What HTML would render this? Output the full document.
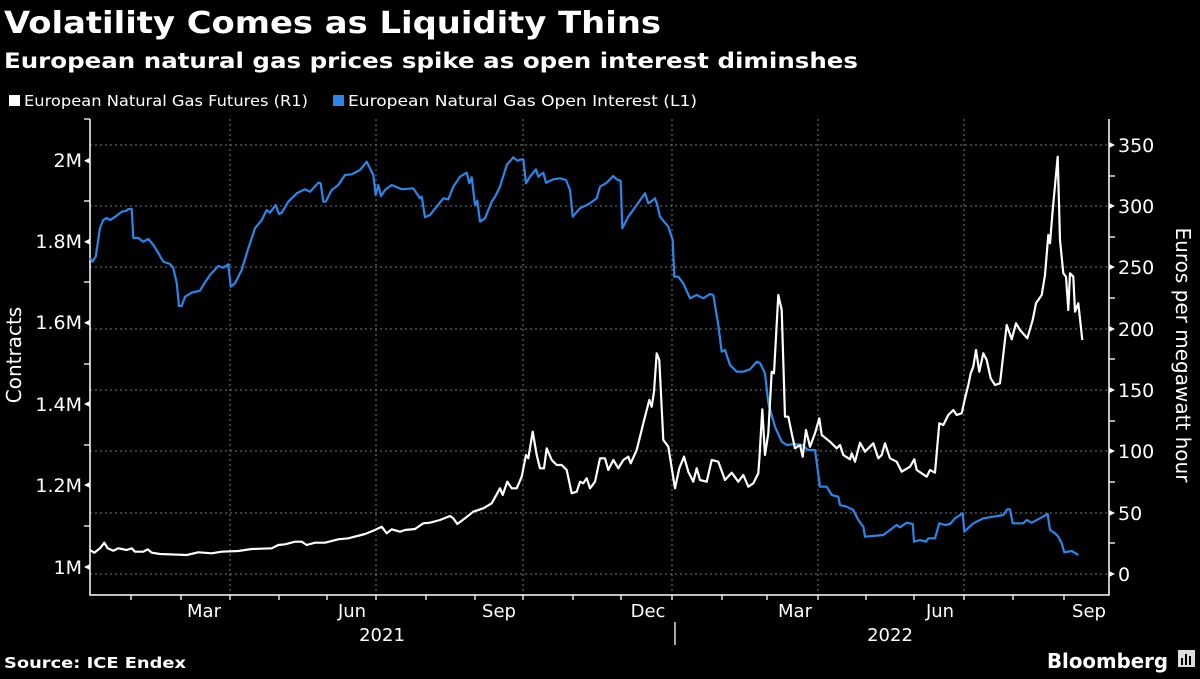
<!DOCTYPE html>
<html><head><meta charset="utf-8"><style>
html,body{margin:0;padding:0;background:#000;}
body{width:1200px;height:675px;overflow:hidden;font-family:"DejaVu Sans","Liberation Sans",sans-serif;color:#fff;}
</style></head><body>
<svg width="1200" height="675" viewBox="0 0 1200 675" xmlns="http://www.w3.org/2000/svg" font-family="DejaVu Sans, Liberation Sans, sans-serif">
<rect width="1200" height="675" fill="#000"/>
<text x="4" y="33" fill="#fff" font-size="30" font-weight="bold" textLength="657" lengthAdjust="spacingAndGlyphs">Volatility Comes as Liquidity Thins</text>
<text x="4" y="68" fill="#fff" font-size="21" font-weight="bold" textLength="854" lengthAdjust="spacingAndGlyphs">European natural gas prices spike as open interest diminshes</text>
<rect x="9" y="95" width="11" height="11" fill="#fff"/>
<text x="24" y="106" fill="#fff" font-size="15" textLength="284" lengthAdjust="spacingAndGlyphs">European Natural Gas Futures (R1)</text>
<rect x="333" y="95" width="11" height="11" fill="#2a86e8"/>
<text x="348" y="106" fill="#fff" font-size="15" textLength="349" lengthAdjust="spacingAndGlyphs">European Natural Gas Open Interest (L1)</text>
<g stroke="#777" stroke-width="1" stroke-dasharray="2,3">
<line x1="90" x2="1108" y1="145" y2="145"/><line x1="90" x2="1108" y1="206" y2="206"/>
<line x1="90" x2="1108" y1="267" y2="267"/><line x1="90" x2="1108" y1="329" y2="329"/>
<line x1="90" x2="1108" y1="390" y2="390"/><line x1="90" x2="1108" y1="451" y2="451"/>
<line x1="90" x2="1108" y1="513" y2="513"/><line x1="90" x2="1108" y1="574" y2="574"/>
<line x1="230" x2="230" y1="119" y2="595"/><line x1="376" x2="376" y1="119" y2="595"/>
<line x1="523" x2="523" y1="119" y2="595"/><line x1="672" x2="672" y1="119" y2="595"/>
<line x1="818" x2="818" y1="119" y2="595"/><line x1="964" x2="964" y1="119" y2="595"/>
</g>
<g stroke="#fff" stroke-width="1.5" fill="none">
<polyline points="90,119 90,595 1109,595 1109,119"/>
</g>
<g stroke="#fff" stroke-width="1.3">
<line x1="84" x2="90" y1="201" y2="201"/><line x1="84" x2="90" y1="282" y2="282"/>
<line x1="84" x2="90" y1="364" y2="364"/><line x1="84" x2="90" y1="445" y2="445"/>
<line x1="84" x2="90" y1="526" y2="526"/><line x1="84" x2="90" y1="119" y2="119"/>
<line x1="1109" x2="1115" y1="176" y2="176"/><line x1="1109" x2="1115" y1="237" y2="237"/>
<line x1="1109" x2="1115" y1="298" y2="298"/><line x1="1109" x2="1115" y1="359" y2="359"/>
<line x1="1109" x2="1115" y1="421" y2="421"/><line x1="1109" x2="1115" y1="482" y2="482"/>
<line x1="1109" x2="1115" y1="543" y2="543"/>
<line x1="131" x2="131" y1="595" y2="600"/><line x1="181" x2="181" y1="595" y2="600"/><line x1="230" x2="230" y1="595" y2="600"/>
<line x1="279" x2="279" y1="595" y2="600"/><line x1="327" x2="327" y1="595" y2="600"/><line x1="376" x2="376" y1="595" y2="600"/>
<line x1="426" x2="426" y1="595" y2="600"/><line x1="475" x2="475" y1="595" y2="600"/><line x1="523" x2="523" y1="595" y2="600"/>
<line x1="573" x2="573" y1="595" y2="600"/><line x1="621" x2="621" y1="595" y2="600"/><line x1="672" x2="672" y1="595" y2="600"/>
<line x1="722" x2="722" y1="595" y2="600"/><line x1="767" x2="767" y1="595" y2="600"/><line x1="818" x2="818" y1="595" y2="600"/>
<line x1="866" x2="866" y1="595" y2="600"/><line x1="914" x2="914" y1="595" y2="600"/><line x1="964" x2="964" y1="595" y2="600"/>
<line x1="1013" x2="1013" y1="595" y2="600"/><line x1="1064" x2="1064" y1="595" y2="600"/>
<line x1="675" x2="675" y1="622" y2="645"/>
</g>
<g fill="#fff">
<polygon points="84,160.7 90,157.7 90,163.7"/><polygon points="84,241.7 90,238.7 90,244.7"/>
<polygon points="84,322.7 90,319.7 90,325.7"/><polygon points="84,404 90,401 90,407"/>
<polygon points="84,485 90,482 90,488"/><polygon points="84,567 90,564 90,570"/>
<polygon points="1115,145 1109,142 1109,148"/><polygon points="1115,206 1109,203 1109,209"/>
<polygon points="1115,267 1109,264 1109,270"/><polygon points="1115,329 1109,326 1109,332"/>
<polygon points="1115,390 1109,387 1109,393"/><polygon points="1115,451 1109,448 1109,454"/>
<polygon points="1115,513 1109,510 1109,516"/><polygon points="1115,574 1109,571 1109,577"/>
</g>
<g fill="#fff" font-size="19" text-anchor="end">
<text x="82" y="167">2M</text><text x="82" y="248">1.8M</text><text x="82" y="329">1.6M</text>
<text x="82" y="411">1.4M</text><text x="82" y="492">1.2M</text><text x="82" y="574">1M</text>
</g>
<g fill="#fff" font-size="19" text-anchor="start">
<text x="1118" y="152">350</text><text x="1118" y="213">300</text><text x="1118" y="274">250</text>
<text x="1118" y="336">200</text><text x="1118" y="397">150</text><text x="1118" y="458">100</text>
<text x="1118" y="520">50</text><text x="1118" y="581">0</text>
</g>
<g fill="#fff" font-size="18" text-anchor="middle">
<text x="204" y="617">Mar</text><text x="352" y="617">Jun</text><text x="499" y="617">Sep</text>
<text x="648" y="617">Dec</text><text x="795" y="617">Mar</text><text x="940" y="617">Jun</text>
<text x="1089" y="617">Sep</text>
<text x="382" y="641">2021</text><text x="890" y="641">2022</text>
</g>
<text transform="translate(21,355) rotate(-90)" fill="#fff" font-size="20" text-anchor="middle">Contracts</text>
<text transform="translate(1176,355) rotate(90)" fill="#fff" font-size="20" text-anchor="middle">Euros per megawatt hour</text>
<polyline fill="none" stroke="#2a86e8" stroke-width="2.2" stroke-linejoin="round" points="90,258 92.3,261.7 95.7,256.7 100,228 103.3,220 106.7,218 110,220 115,217 121.7,211.7 126.7,210.7 128.3,209 131.7,209 133.3,238 138.3,238 143.3,241.7 148.3,239 153.3,245 158.3,253 163.3,261.7 170,264 173.3,268 176.7,283 179,306 181.7,306 185,296.7 191.7,292.7 200,290.7 203.3,285 210,275 218.3,266 223.3,267.7 228.3,264.3 230.7,286.7 235,283.3 241.7,270 248.3,248.3 255,228.3 261.7,220 266.7,210 270,212.7 275.7,205 279,214 281.7,212.7 288.3,201.7 296.7,193.3 305,189.3 310,191.7 318.3,182.7 320.7,183.3 323.3,201.7 325.7,201.7 331.7,190 338.3,185 345,175 351.7,174.3 360,170 366.7,161.7 373.3,175 375.7,195 378.3,185 381,196 385,190 391.7,185 401.7,189.3 413.3,188.3 420,198.3 421.7,196.7 425,217.3 430,215 436.7,206.7 443.3,198.3 448.3,199.3 453.3,186.7 460,176.7 466.7,172.7 469.3,183.3 471.7,177.3 475,205 477.3,200.7 480,221.7 485,218.3 491.7,201.7 495,196.7 500,186.7 506.7,165 513.3,157.3 517.3,160.7 521.7,159.3 523.3,159.3 526,183.3 530,176.7 536,169.3 538.3,176.7 543.3,172.7 546,182.7 553.3,179.3 560,178.3 566,180 570,190 572.7,216.7 580,208.3 590,203.3 596.7,198.3 600,186.7 606.7,182.7 613.3,176 616.7,179.3 620.7,181 622.3,228.3 628.3,216.7 636.7,205 645,193.3 648.3,203.3 651.7,201 655,198.3 657.3,205 660,216.7 668.3,226.7 672.7,240 674.3,276.7 678.3,276.7 683.3,283.3 690,298.3 696.7,295 703.3,298.3 710,294 713.3,295 718.3,325 721.7,351.7 725,350 730,365 736.7,371.7 743.3,371.7 750,369.3 756.7,361.7 760,363 765,373.3 768.3,403.3 775,426.7 781.7,441.7 786.7,445 795,444 801.7,445 808.3,450 815,450 820,486.7 826.7,486.7 831.7,495 838.3,496.7 840,505 846.7,506.7 853.3,510 858.3,520 863.3,526.7 865,536.7 883.3,535 890,530 896.7,525 900,527.3 906.7,522.7 912.7,524 914,541.7 920,540 926,541.7 928.3,538.3 935,538.3 939.3,523.3 945,525 950,524 955,518.3 962.7,513.3 964.3,531.7 973.3,523.3 983.3,518.3 993.3,516.7 1003.3,515 1007.3,509.3 1010,509.3 1012.7,523.3 1023.3,523.3 1026.7,520 1031.7,522.7 1040,518.3 1047.7,514 1050,530 1055,533.3 1058.3,536.7 1061.7,543.3 1064.3,552.3 1071.7,551 1078.3,555"/>
<polyline fill="none" stroke="#fff" stroke-width="2.2" stroke-linejoin="round" points="90,550 94.3,552.7 100,548.3 104.3,542.7 107.7,548.3 113.3,550.7 118.3,548.3 126.7,550 131.7,548.3 135,551.7 143.3,551.7 147.7,549.3 151.7,552.7 160,554 178.3,554.7 186.7,555 198.3,552.3 211.7,553.3 221.7,551.7 238.3,551 251.7,549 271.7,548.3 278.3,545 285,544.3 295,541.7 301.7,541.7 306.7,545 315,542.7 325,542.7 338.3,539.3 348.3,538.3 365,534 375,530 381.7,526.7 386.7,533.3 391.7,529.3 400,531.7 405,530 415,529 423.3,523.3 430,522.7 440,520 450,516 453.3,518.3 457.3,524 465,518.3 473.3,511.7 483.3,508.3 491.7,503.3 500,488.3 502.7,495 507.3,481.7 511.7,488.3 516.7,488.3 521.7,476.7 526,455 528.3,458.3 532.7,431.7 536.7,455 540,468.3 544,468.3 546.7,448.3 551.7,460 556.7,465 561.7,465 566.7,470 571.7,493.3 576.7,491.7 580,481.7 583.3,483.3 586.7,478.3 590,488.3 595,481.7 600,458.3 605,458.3 608.3,470 613.3,460 618.3,468.3 623.3,460 628.3,456.7 630.7,463.3 636.7,450 643.3,423.3 649.3,400 651.7,406.7 654,391.7 656.7,353.3 659.3,360 663.3,440 668.3,446.7 675,488.3 679.3,468.3 684,456.7 688.3,471.7 693.3,481.7 696.7,468.3 700,480 706.7,481.7 711.7,460 718.3,461.7 725,480 731.7,472.7 738.3,481.7 743.3,475 748.3,486.7 753.3,483.3 758.3,473.3 759.3,460 762.3,409.3 765,455 768.3,433.3 771.7,371.7 774,373.3 778.3,295 781.7,310 785,416.7 788.3,416.7 791.7,433.3 795,448.3 800,445 802.7,456.7 806,430 810,446.7 815,433.3 819.3,418.3 821.7,435 830,441.7 836.7,448.3 840,445 843.3,455 850,459.3 851.7,453.3 855,461.7 860,442.7 865,451.7 873.3,443.3 878.3,458.3 881.7,455 885,443.3 890,458.3 896.7,461.7 901.7,471.7 910,466.7 914.3,459.3 916.7,470 926.7,476.7 930,470 935,472.7 939.3,423.3 943.3,425 948.3,415 953.3,410 956.7,415 961.7,413.3 965,398.3 968.3,385 970.7,373.3 973.3,366.7 976,350 979.3,371.7 983.3,353.3 986.7,360 990.7,378.3 995,385 1000,383.3 1006.7,325 1011.7,339.3 1016,323.3 1020,330 1027.3,338.3 1032.7,320 1036,303.3 1041.7,295 1045,275 1048.3,235 1050,243.3 1052.7,210 1057.7,156.7 1060,240 1063.3,273.3 1066,276.7 1068.3,310 1070,273.3 1073.3,276.7 1075,311.7 1078.3,303.3 1082.3,340"/>
<text x="4" y="668" fill="#fff" font-size="15" font-weight="bold" textLength="182" lengthAdjust="spacingAndGlyphs">Source: ICE Endex</text>
<text x="1047" y="668" fill="#fff" font-size="20" font-weight="bold" textLength="121" lengthAdjust="spacingAndGlyphs">Bloomberg</text>
<g>
<rect x="1178" y="650" width="17" height="17" fill="#ddd"/>
<rect x="1181" y="658" width="2" height="7" fill="#000"/><rect x="1185" y="654" width="2" height="11" fill="#000"/>
<rect x="1189" y="656" width="2" height="9" fill="#000"/>
</g>
</svg>
</body></html>
